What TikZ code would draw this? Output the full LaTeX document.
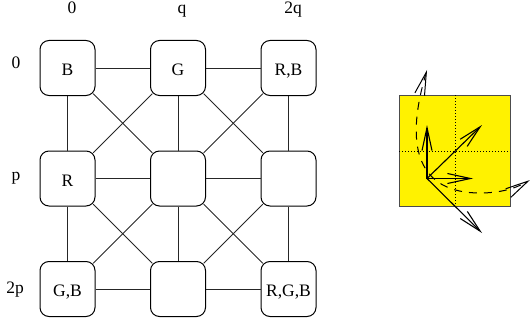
\documentclass[tikz,border=0pt]{standalone}
\usepackage{fontspec}
\setmainfont{Liberation Serif}
\usetikzlibrary{arrows.meta}
\begin{document}
\begin{tikzpicture}[x=1pt,y=-1pt,
  box/.style={draw,line width=1pt,rounded corners=9pt,minimum width=55pt,minimum height=55pt,inner sep=0pt,text height=15.5pt,text depth=0pt,font=\fontsize{17.5}{20}\selectfont},
  lab/.style={font=\fontsize{17.5}{20}\selectfont,anchor=base,inner sep=0pt},
  conn/.style={line width=0.8pt,black!85},
  diag/.style={conn,shorten <=-3.2pt,shorten >=-3.2pt},
  barb/.tip={Straight Barb[length=23pt,width=10pt]},
  vec/.style={line width=1.1pt,-barb},
  swing/.style={line width=1pt,dash pattern=on 8pt off 7pt,barb-barb}
]
\useasboundingbox (0,0) rectangle (530,321);
% column / row labels
\node[lab] (c0) at (72,13.5) {0};
\node[lab] (c1) at (182,13.5) {q};
\node[lab] (c2) at (293,13.5) {2q};
\node[lab] (r0) at (16,68) {0};
\node[lab] (r1) at (16,180) {p};
\node[lab] (r2) at (15,293) {2p};
% boxes
\node[box] (n00) at (67.5,68) {B};
\node[box] (n01) at (178,68) {G};
\node[box] (n02) at (288.5,68) {R,B};
\node[box] (n10) at (67.5,178.5) {R};
\node[box] (n11) at (178,178.5) {};
\node[box] (n12) at (288.5,178.5) {};
\node[box] (n20) at (67.5,289) {G,B};
\node[box] (n21) at (178,289) {};
\node[box] (n22) at (288.5,289) {R,G,B};
% straight connectors
\foreach \r in {0,1,2}{
  \draw[conn] (n\r0) -- (n\r1);
  \draw[conn] (n\r1) -- (n\r2);
  \draw[conn] (n0\r) -- (n1\r);
  \draw[conn] (n1\r) -- (n2\r);
}
% diagonal connectors
\draw[diag] (n00.south east) -- (n11.north west);
\draw[diag] (n01.south west) -- (n10.north east);
\draw[diag] (n01.south east) -- (n12.north west);
\draw[diag] (n02.south west) -- (n11.north east);
\draw[diag] (n10.south east) -- (n21.north west);
\draw[diag] (n11.south west) -- (n20.north east);
\draw[diag] (n11.south east) -- (n22.north west);
\draw[diag] (n12.south west) -- (n21.north east);
% right figure
\filldraw[fill=yellow,draw=black!70,line width=0.8pt] (399,95) rectangle (510,206);
\draw[line width=0.8pt,dash pattern=on 1pt off 2pt] (455,95) -- (455,206);
\draw[line width=0.8pt,dash pattern=on 1pt off 2pt] (399,151) -- (510,151);
\coordinate (s1) at (427,70);
\coordinate (s2) at (530,180);
\draw[swing] (s1) .. controls (403,150) and (420,193) .. (480,193) .. controls (505,193) and (520,186) .. (s2);
\coordinate (o) at (427,178.5);
\coordinate (u) at (427,125);
\coordinate (r) at (473,178.5);
\coordinate (d) at (482,125);
\coordinate (dr) at (482,233);
\draw[vec] (o) -- (u);
\draw[vec] (o) -- (r);
\draw[vec] (o) -- (d);
\draw[vec] (o) -- (dr);
\end{tikzpicture}
\end{document}
